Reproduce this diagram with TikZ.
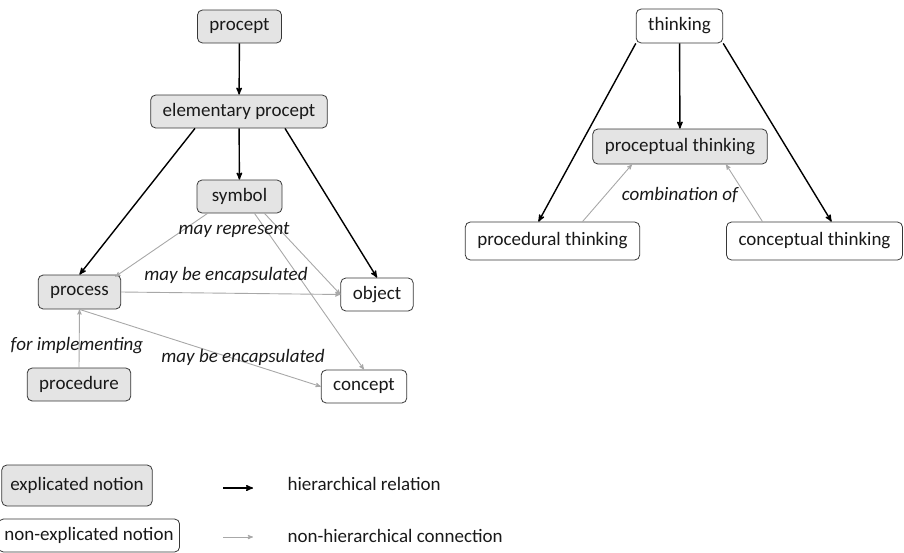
\documentclass[tikz,border=0pt]{standalone}
\usepackage{fontspec}
\setmainfont{Carlito}
\usepackage{tikz}
\usetikzlibrary{arrows,positioning}

\definecolor{boxfill}{RGB}{228,228,228}
\definecolor{boxline}{RGB}{55,55,55}
\definecolor{linkgray}{RGB}{168,168,168}
\definecolor{txt}{RGB}{25,25,25}

\begin{document}
\begin{tikzpicture}[x=1pt,y=-1pt,>=stealth',
    every node/.style={font=\fontsize{19}{23}\selectfont,text=txt},
    notion/.style={draw=boxline,line width=0.8pt,rounded corners=5pt,
                   inner xsep=12pt,inner ysep=0pt,minimum height=33pt},
    explicated/.style={notion,fill=boxfill},
    hier/.style={->,line width=1.4pt,black},
    nonhier/.style={->,line width=0.9pt,linkgray},
    relname/.style={font=\fontsize{19}{23}\selectfont\itshape}]
  \useasboundingbox (0,0) rectangle (904,552);

  % procept hierarchy
  \node[explicated] (procept) at (239.5,26.5) {procept};
  \node[explicated] (elem)    at (239,111.5)  {elementary procept};
  \node[explicated,minimum width=85pt] (symbol) at (239.5,196.5) {symbol};
  \node[explicated,minimum height=34pt] (process) at (79.5,292) {process};
  \node[notion] (object)      at (377,294.5)  {object};
  \node[explicated] (procedure) at (79,384.5) {procedure};
  \node[notion] (concept)     at (364,386.5)  {concept};

  \draw[hier] (procept) -- (elem);
  \draw[hier] (elem) -- (symbol);
  \draw[hier] ([xshift=-44pt]elem.south) -- (process.north);
  \draw[hier] ([xshift=46pt]elem.south) -- (object.north);

  \draw[nonhier] ([xshift=-32pt]symbol.south) -- ([xshift=-6pt,yshift=-2pt]process.north east);
  \draw[nonhier] ([xshift=25pt]symbol.south) -- (object.west);
  \draw[nonhier] ([xshift=15pt]symbol.south) -- (concept.north);
  \draw[nonhier] (process.east) -- (object.west);
  \draw[nonhier] (process.south) -- (concept.west);
  \draw[nonhier] (procedure.north) -- (process.south);

  \node[relname] (mayrep)  at (234,230) {may represent};
  \node[relname] (mayenc)  at (226,275) {may be encapsulated};
  \node[relname] (mayenc2) at (243,357) {may be encapsulated};
  \node[relname] (forimpl) at (77,346)  {for implementing};

  % thinking
  \node[notion,minimum height=34pt] (thinking) at (679.5,26) {thinking};
  \node[explicated,minimum height=35pt] (procthink) at (680,146.5) {proceptual thinking};
  \node[notion,minimum height=38pt] (procedural) at (552.5,241) {procedural thinking};
  \node[notion,minimum height=38pt] (conceptual) at (814.5,241) {conceptual thinking};

  \draw[hier] (thinking.south west) -- ([xshift=-14pt]procedural.north);
  \draw[hier] (thinking) -- (procthink);
  \draw[hier] (thinking.south east) -- ([xshift=17pt]conceptual.north);
  \draw[nonhier] ([xshift=30pt]procedural.north) -- ([xshift=-48pt]procthink.south);
  \draw[nonhier] ([xshift=-52pt]conceptual.north) -- ([xshift=46pt]procthink.south);

  \node[relname] (combi) at (680,195) {combination of};

  % legend
  \node[explicated,minimum height=41pt,inner xsep=8.5pt] (legexp) at (77,485.5) {explicated notion};
  \node[notion,inner xsep=6pt] (legnon) at (89,535.5) {non-explicated notion};
  \coordinate (h1) at (223,488);
  \coordinate (h2) at (253,488);
  \coordinate (n1) at (223,537);
  \coordinate (n2) at (253,537);
  \draw[hier] (h1) -- (h2);
  \draw[nonhier] (n1) -- (n2);
  \node[anchor=west] (leghier) at (284,484) {hierarchical relation};
  \node[anchor=west] (legnonh) at (284,536) {non-hierarchical connection};
\end{tikzpicture}
\end{document}
